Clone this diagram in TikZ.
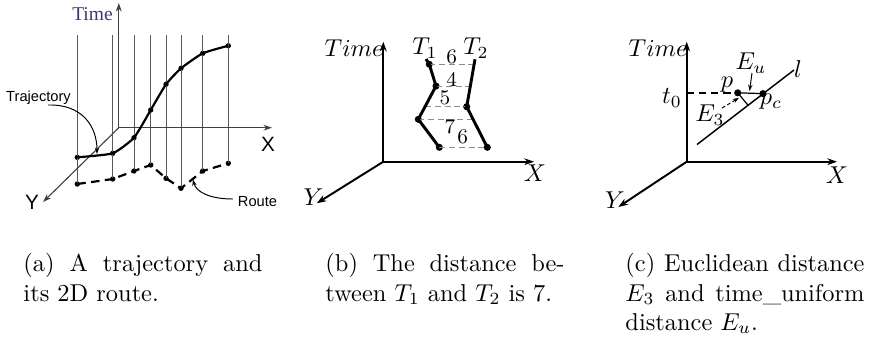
\documentclass[tikz,border=0pt]{standalone}
\usepackage{fontspec}
\newfontfamily\arialf{Liberation Sans}
\newfontfamily\tnrf{Liberation Serif}
\usetikzlibrary{arrows.meta}
\definecolor{timeblue}{RGB}{58,58,110}
\begin{document}
\begin{tikzpicture}[x=0.41pt,y=-0.41pt,
  axA/.style={line width=0.45pt, draw=black!75, -{Stealth[length=3.5pt,width=2.4pt]}},
  vlineA/.style={line width=0.4pt, draw=black!65},
  trajA/.style={line width=0.9pt},
  routeA/.style={line width=0.9pt, dash pattern=on 3.5pt off 2.2pt},
  dotA/.style={circle, fill=black, inner sep=0pt, minimum size=2.2pt},
  callout/.style={line width=0.4pt, -{Stealth[length=2.6pt,width=1.8pt]}},
  sanslbl/.style={font=\arialf\fontsize{6}{7}\selectfont, inner sep=0pt},
  axlblA/.style={font=\arialf\fontsize{8.5}{10}\selectfont, inner sep=0pt},
  axB/.style={line width=0.8pt, -{Stealth[length=4pt,width=2.8pt]}},
  trajB/.style={line width=1.2pt},
  dotB/.style={circle, fill=black, inner sep=0pt, minimum size=2.9pt},
  gridB/.style={line width=0.4pt, draw=black!45, dash pattern=on 2.5pt off 1.5pt},
  mathlbl/.style={font=\fontsize{10}{12}\selectfont, inner sep=0pt},
  numlbl/.style={font=\fontsize{8.5}{10}\selectfont, inner sep=0pt},
  captext/.style={font=\fontsize{10}{12}\selectfont, text width=98pt, align=justify, inner sep=0pt, anchor=north west}
]
\useasboundingbox (0,0) rectangle (869,337);

% ---------------- panel (a) ----------------
\coordinate (oa) at (118.8,127.7);
\coordinate (ta) at (118.8,3);
\coordinate (xa) at (272,127.7);
\coordinate (ya) at (43,202);
\foreach \i/\x/\t/\r in {1/77.3/157.3/184, 2/112.7/153.3/179, 3/134/137.7/171, 4/150.7/110/165,
                          5/166/84.3/178.3, 6/181/68.3/188.3, 7/202.7/53.3/171, 8/228.3/45.7/163.3}{
  \coordinate (top\i) at (\x,35);
  \node[dotA] (tr\i) at (\x,\t) {};
  \node[dotA] (ro\i) at (\x,\r) {};
  \draw[vlineA] (top\i) -- (ro\i.center);
}
\draw[axA] (oa) -- (ta);
\draw[axA] (oa) -- (xa);
\draw[axA] (oa) -- (ya);
\draw[trajA] plot[smooth, tension=0.3] coordinates {(tr1.center) (tr2.center) (tr3.center) (tr4.center) (tr5.center) (tr6.center) (tr7.center) (tr8.center)};
\draw[routeA] (ro1.center) -- (ro2.center) -- (ro3.center) -- (ro4.center) -- (ro5.center) -- (ro6.center) -- (ro7.center) -- (ro8.center);
\node[font=\tnrf\fontsize{8}{9}\selectfont, text=timeblue, inner sep=0pt] (timeA) at (92.5,14) {Time};
\node[axlblA] (xlblA) at (268,144) {X};
\node[axlblA] (ylblA) at (32,202) {Y};
\node[sanslbl] (trajlbl) at (38.5,98) {Trajectory};
\coordinate (trajfrom) at (48,105);
\coordinate (trajtip) at (97,154);
\draw[callout] (trajfrom) .. controls (82,104) and (97,126) .. (trajtip);
\node[sanslbl] (routelbl) at (257.5,202) {Route};
\coordinate (routefrom) at (233,199);
\coordinate (routetip) at (193,179.5);
\draw[callout] (routefrom) .. controls (210,199) and (196,192) .. (routetip);

% ---------------- panel (b) ----------------
\coordinate (ob) at (383.3,161.7);
\coordinate (tb) at (383.3,41.7);
\coordinate (xb) at (534,161.7);
\coordinate (yb) at (316.7,203.3);
\draw[axB] (ob) -- (tb);
\draw[axB] (ob) -- (xb);
\draw[axB] (ob) -- (yb);
\node[mathlbl, anchor=east] (timeB) at (384,48) {$Time$};
\node[mathlbl] (xlblB) at (535,173.5) {$X$};
\node[mathlbl] (ylblB) at (313.3,196.7) {$Y$};
% T1
\coordinate (a0) at (426,59);
\node[dotB] (a1) at (429.3,64.3) {};
\node[dotB] (a2) at (436,86) {};
\node[dotB] (a3) at (418.3,119.3) {};
\node[dotB] (a4) at (439.3,147.3) {};
% T2
\coordinate (b0) at (475,59.3);
\node[dotB] (b1) at (466.7,106.7) {};
\node[dotB] (b2) at (487.3,147.3) {};
% horizontal partners
\coordinate (h1) at (474.1,64.3);
\coordinate (h2) at (470.3,86);
\coordinate (h3) at (425,106.7);
\coordinate (h4) at (473.1,119.3);
\draw[gridB] (a1.center) -- (h1);
\draw[gridB] (a2.center) -- (h2);
\draw[gridB] (h3) -- (b1.center);
\draw[gridB] (a3.center) -- (h4);
\draw[gridB] (a4.center) -- (b2.center);
\draw[trajB] (a0) -- (a1.center) -- (a2.center) -- (a3.center) -- (a4.center);
\draw[trajB] (b0) -- (b1.center) -- (b2.center);
\node[mathlbl] (t1lbl) at (425,48) {$T_1$};
\node[mathlbl] (t2lbl) at (476,48) {$T_2$};
\node[numlbl] (n6a) at (451.7,57.3) {6};
\node[numlbl] (n4) at (451.7,79.3) {4};
\node[numlbl] (n5) at (445,98.3) {5};
\node[numlbl] (n7) at (450,126.7) {7};
\node[numlbl] (n6b) at (462.7,137.3) {6};

% ---------------- panel (c) ----------------
\coordinate (oc) at (686.7,161.7);
\coordinate (tc) at (686.7,41.7);
\coordinate (xc) at (837,161.7);
\coordinate (yc) at (618.3,207);
\draw[axB] (oc) -- (tc);
\draw[axB] (oc) -- (xc);
\draw[axB] (oc) -- (yc);
\node[mathlbl, anchor=east] (timeC) at (688,48) {$Time$};
\node[mathlbl] (xlblC) at (837,175) {$X$};
\node[mathlbl] (ylblC) at (615,200) {$Y$};
\coordinate (l0) at (697,144.5);
\coordinate (l1) at (794,70);
\draw[line width=0.6pt] (l0) -- (l1);
\coordinate (t0pt) at (686.7,92.8);
\node[dotB] (p) at (737.7,92.8) {};
\node[dotB] (pc) at (763,93.6) {};
\draw[line width=0.6pt, dash pattern=on 3pt off 2pt] (t0pt) -- (p.center);
\draw[line width=0.5pt] (p.center) -- (pc.center);
\coordinate (foot) at (747.8,105);
\draw[line width=0.5pt] (p.center) -- (foot);
\node[mathlbl] (t0lbl) at (672,98) {$t_0$};
\node[mathlbl] (plbl) at (727,85) {$p$};
\node[mathlbl] (pclbl) at (771,102) {$p_c$};
\node[mathlbl] (eulbl) at (751,63) {$E_u$};
\node[mathlbl] (llbl) at (798,69) {$l$};
\node[mathlbl] (e3lbl) at (710,115) {$E_3$};
\coordinate (eufrom) at (752,73);
\coordinate (eutip) at (749.5,91);
\draw[callout] (eufrom) -- (eutip);
\coordinate (e3from) at (722,108);
\coordinate (e3tip) at (739,97.8);
\draw[callout, dash pattern=on 1.5pt off 1pt] (e3from) -- (e3tip);

% ---------------- captions ----------------
\node[captext] (capa) at (23,253) {(a) A trajectory and\linebreak its 2D route.};
\node[captext] (capb) at (325,253) {(b) The distance be-\linebreak tween $T_1$ and $T_2$ is 7.};
\node[captext] (capc) at (625,253) {(c) Euclidean distance\linebreak $E_3$ and time\_uniform\linebreak distance $E_u$.};
\end{tikzpicture}
\end{document}
